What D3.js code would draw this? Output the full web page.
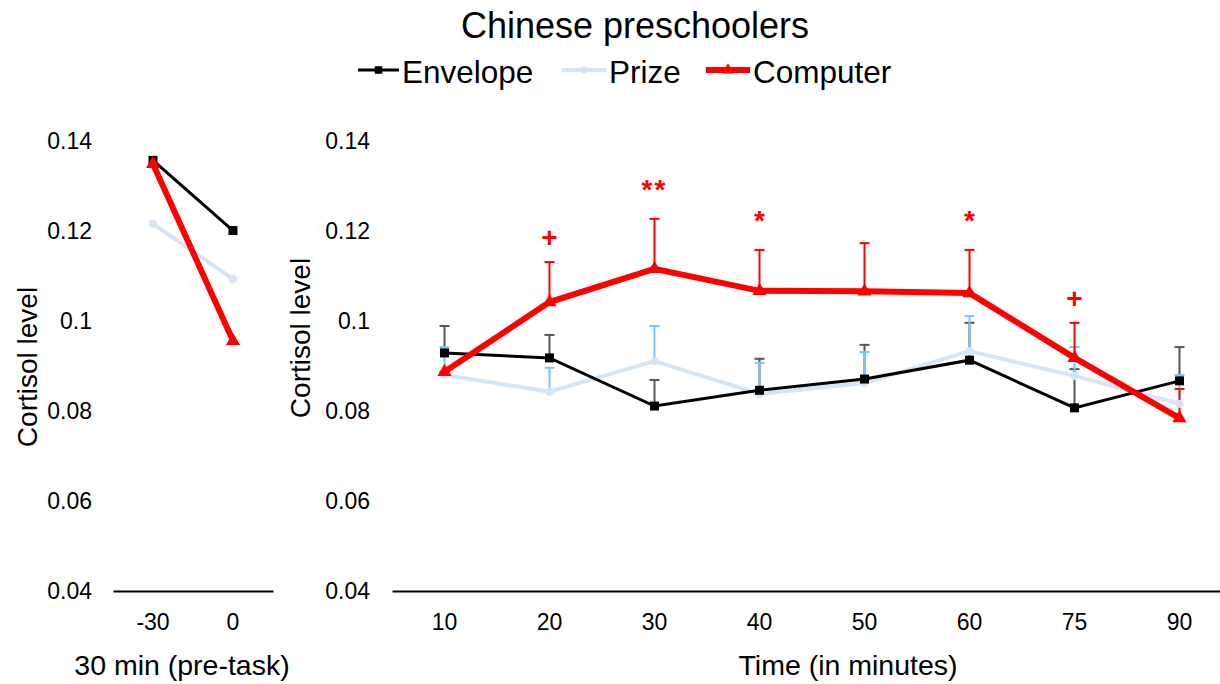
<!DOCTYPE html>
<html>
<head>
<meta charset="utf-8">
<script src="https://cdn.jsdelivr.net/npm/d3@7"></script>
<style>
  body { margin: 0; background: #fff; }
  svg { font-family: "Liberation Sans", Arial, sans-serif; }
</style>
</head>
<body>
<div id="chart"></div>
<script>
'use strict';

// data
const preTimes = ['-30', '0']
const times = ['10', '20', '30', '40', '50', '60', '75', '90']
const yTicks = [0.04, 0.06, 0.08, 0.10, 0.12, 0.14]
const yTickLabels = ['0.04', '0.06', '0.08', '0.1', '0.12', '0.14']

const envelopePre = [0.1357, 0.1201]
const prizePre = [0.1216, 0.1093]
const computerPre = [0.1349, 0.0956]

const envelope = [0.0929, 0.0918, 0.0811, 0.0846, 0.0871, 0.0913, 0.0807, 0.0867]
const envelopeTop = [0.0989, 0.0969, 0.0869, 0.0916, 0.0947, 0.0996, 0.0893, 0.0942]
const prize = [0.0880, 0.0843, 0.0911, 0.0838, 0.0862, 0.0933, 0.0878, 0.0816]
const prizeTop = [0.0942, 0.0896, 0.0989, 0.0907, 0.0931, 0.1011, 0.0942, 0.0880]
const computer = [0.0887, 0.1042, 0.1116, 0.1067, 0.1066, 0.1062, 0.0918, 0.0784]
const computerTop = [0.0887, 0.1131, 0.1227, 0.1158, 0.1173, 0.1158, 0.0996, 0.0849]
const sigMarks = ['', '+', '**', '*', '', '*', '+', '']

const width = 1220
const height = 684

const svg = d3.select('#chart')
  .append('svg')
  .attr('width', width)
  .attr('height', height)

// scales
const yScale = d3.scaleLinear()
  .domain([0.04, 0.14])
  .range([591, 141])

const xPre = d3.scaleBand()
  .domain(preTimes)
  .range([113, 273])

const xMain = d3.scaleBand()
  .domain(times)
  .range([392, 1232])

const series = [
  { name: 'Envelope', pre: envelopePre, vals: envelope, top: envelopeTop,
    color: '#000', width: 3, bar: '#555', shape: 'square', size: 9 },
  { name: 'Prize', pre: prizePre, vals: prize, top: prizeTop,
    color: '#d6e5f4', width: 4, bar: '#72c9f4', shape: 'circle', size: 8 },
  { name: 'Computer', pre: computerPre, vals: computer, top: computerTop,
    color: '#ff0000', width: 6, bar: '#ff0000', shape: 'triangle', size: 12 },
]

const symbolFor = (s, k = 1) => {
  if (s.shape === 'square') return d3.symbol(d3.symbolSquare, s.size * s.size * k)
  if (s.shape === 'circle') return d3.symbol(d3.symbolCircle, s.size * s.size * 0.8 * k)
  return d3.symbol(d3.symbolTriangle, s.size * s.size * 0.6 * k)
}

// title
svg.append('text')
  .attr('x', 635)
  .attr('y', 38)
  .attr('text-anchor', 'middle')
  .style('font-size', '36px')
  .text('Chinese preschoolers')

// legend
const legendX = [358, 562, 706]
const legendW = [41, 44, 44]
series.forEach((s, i) => {
  const g = svg.append('g').attr('transform', `translate(${legendX[i]}, 70)`)
  g.append('line')
    .attr('x1', 0).attr('x2', legendW[i])
    .attr('stroke', s.color)
    .attr('stroke-width', s.width)
  g.append('path')
    .attr('transform', `translate(${legendW[i] / 2}, 0)`)
    .attr('d', symbolFor(s, 0.7)())
    .attr('fill', s.color)
  g.append('text')
    .attr('x', legendW[i] + 3)
    .attr('y', 13)
    .style('font-size', '31.5px')
    .text(s.name)
})

// axes
function drawAxes(xScale, yAxisX, xTitle, xTitleX, yTitleX, yTitleY){
  const yAxis = d3.axisLeft(yScale)
    .tickValues(yTicks)
    .tickFormat((d, i) => yTickLabels[i])
    .tickSize(0)
    .tickPadding(0)
  const yg = svg.append('g')
    .attr('transform', `translate(${yAxisX}, 0)`)
    .call(yAxis)
  yg.select('.domain').remove()
  yg.selectAll('text')
    .style('font-size', '23px')
    .style('font-family', '"Liberation Sans", Arial, sans-serif')
    .attr('fill', '#000')

  const xAxis = d3.axisBottom(xScale)
    .tickSize(0)
    .tickSizeOuter(0)
    .tickPadding(23)
  const xg = svg.append('g')
    .attr('transform', `translate(0, ${yScale(0.04)})`)
    .call(xAxis)
  xg.select('.domain')
    .attr('stroke', '#000')
    .attr('stroke-width', 2)
  xg.selectAll('text')
    .style('font-size', '23px')
    .style('font-family', '"Liberation Sans", Arial, sans-serif')
    .attr('fill', '#000')

  svg.append('text')
    .attr('x', xTitleX)
    .attr('y', 675)
    .attr('text-anchor', 'middle')
    .style('font-size', '28.5px')
    .text(xTitle)

  svg.append('text')
    .attr('transform', `translate(${yTitleX}, ${yTitleY}) rotate(-90)`)
    .attr('text-anchor', 'middle')
    .style('font-size', '28px')
    .text('Cortisol level')
}

drawAxes(xPre, 92, '30 min (pre-task)', 182, 37, 367)
drawAxes(xMain, 370, 'Time (in minutes)', 848, 310, 338)

const cx = (xs, d) => xs(d) + xs.bandwidth() / 2

// pre-task panel
const preOrder = [series[1], series[0], series[2]]
preOrder.forEach(s => {
  const line = d3.line()
    .x((d, i) => cx(xPre, preTimes[i]))
    .y(d => yScale(d))
  svg.append('path')
    .datum(s.pre)
    .attr('d', line)
    .attr('fill', 'none')
    .attr('stroke', s.color)
    .attr('stroke-width', s.width)
  svg.append('g')
    .selectAll('path')
    .data(s.pre)
    .join('path')
    .attr('transform', (d, i) => `translate(${cx(xPre, preTimes[i])}, ${yScale(d)})`)
    .attr('d', symbolFor(s)())
    .attr('fill', s.color)
})

// error bars (upper only)
series.forEach(s => {
  const g = svg.append('g')
    .attr('stroke', s.bar)
    .attr('stroke-width', 2)
  g.selectAll('line.stem')
    .data(s.top)
    .join('line')
    .attr('class', 'stem')
    .attr('x1', (d, i) => cx(xMain, times[i]))
    .attr('x2', (d, i) => cx(xMain, times[i]))
    .attr('y1', (d, i) => yScale(s.vals[i]))
    .attr('y2', d => yScale(d))
  g.selectAll('line.cap')
    .data(s.top)
    .join('line')
    .attr('class', 'cap')
    .attr('x1', (d, i) => cx(xMain, times[i]) - 5)
    .attr('x2', (d, i) => cx(xMain, times[i]) + 5)
    .attr('y1', d => yScale(d))
    .attr('y2', d => yScale(d))
})

// main lines
preOrder.forEach(s => {
  const line = d3.line()
    .x((d, i) => cx(xMain, times[i]))
    .y(d => yScale(d))
  svg.append('path')
    .datum(s.vals)
    .attr('d', line)
    .attr('fill', 'none')
    .attr('stroke', s.color)
    .attr('stroke-width', s.width)
  svg.append('g')
    .selectAll('path')
    .data(s.vals)
    .join('path')
    .attr('transform', (d, i) => `translate(${cx(xMain, times[i])}, ${yScale(d)})`)
    .attr('d', symbolFor(s)())
    .attr('fill', s.color)
})

// significance markers (asterisks sit higher in the glyph box than '+')
svg.append('g')
  .selectAll('text')
  .data(sigMarks)
  .join('text')
  .attr('x', (d, i) => cx(xMain, times[i]))
  .attr('y', (d, i) => yScale(computerTop[i]) - (d === '+' ? 15 : 20))
  .attr('text-anchor', 'middle')
  .attr('fill', '#ff0000')
  .style('font-size', '28px')
  .style('font-weight', 'bold')
  .style('letter-spacing', d => d === '**' ? '2px' : '0px')
  .text(d => d)
</script>
</body>
</html>
